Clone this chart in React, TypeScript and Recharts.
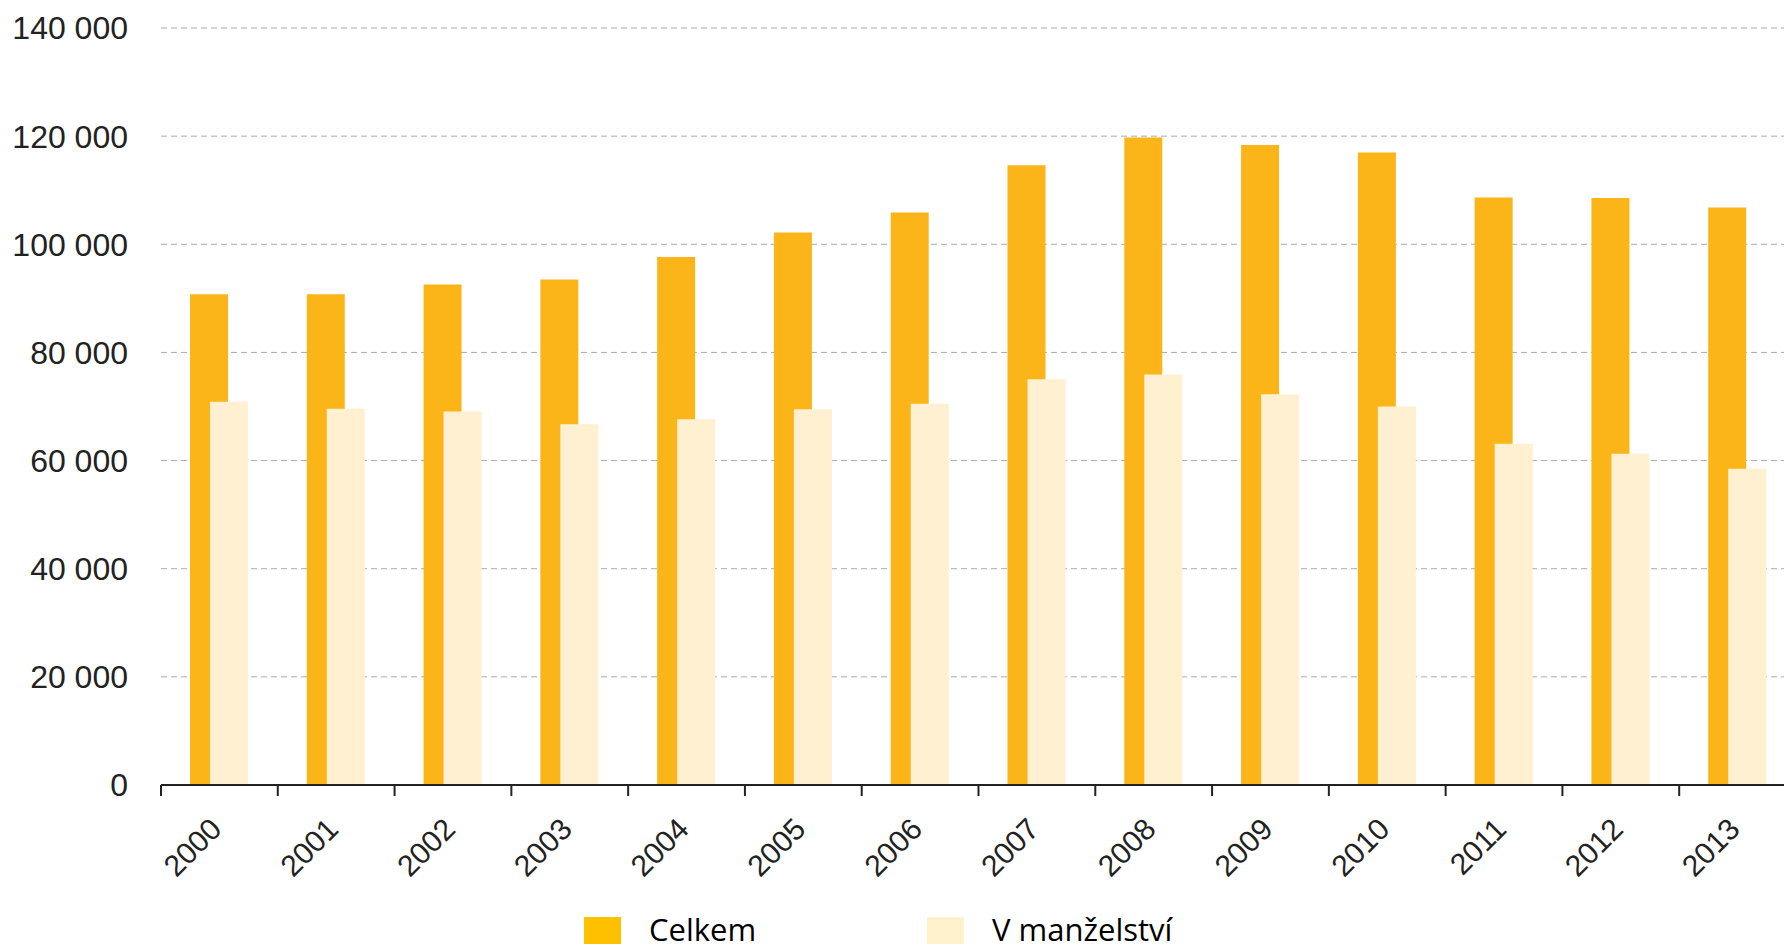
import React from 'react';
import { BarChart, Bar, XAxis, YAxis, CartesianGrid, Legend } from 'recharts';

const years = ['2000', '2001', '2002', '2003', '2004', '2005', '2006', '2007', '2008', '2009', '2010', '2011', '2012', '2013'];
const celkem = [90750, 90750, 92540, 93470, 97660, 102170, 105880, 114640, 119770, 118340, 116990, 108660, 108580, 106800];
const vManzelstvi = [70870, 69580, 69080, 66730, 67650, 69510, 70500, 75060, 75930, 72280, 70010, 63100, 61250, 58470];
const yTicks = [0, 20000, 40000, 60000, 80000, 100000, 120000, 140000];
const seriesNames = ['Celkem', 'V manželství'];

const barColors = ['#FBB519', '#FEF0D0'];
const legendColors = ['#FFC000', '#FFF2CC'];

const data = years.map((year, i) => ({ year, celkem: celkem[i], manzelstvi: vManzelstvi[i] }));

const fmt = (v: number) => String(v).replace(/\B(?=(\d{3})+(?!\d))/g, ' ');

const axisFont = '"Liberation Sans", Arial, sans-serif';

const YearTick = (props: any) => {
  const { x, y, payload, index, visibleTicksCount } = props;
  const half = payload.offset ?? 58.4;
  return (
    <g>
      <line x1={x - half} x2={x - half} y1={y} y2={y + 11} stroke="#222" strokeWidth={2} />
      {index === visibleTicksCount - 1 && (
        <line x1={x + half} x2={x + half} y1={y} y2={y + 11} stroke="#222" strokeWidth={2} />
      )}
      <text
        transform={`translate(${x + 4},${y + 46}) rotate(-45)`}
        textAnchor="end"
        fontSize={30}
        fill="#222"
        fontFamily={axisFont}
      >
        {payload.value}
      </text>
    </g>
  );
};

// legend drawn as html so it can sit right at the bottom edge like the original
const LegendBox = () => (
  <div style={{ display: 'flex', alignItems: 'flex-start', paddingLeft: 584 }}>
    {seriesNames.map((name, i) => (
      <div key={name} style={{ display: 'flex', alignItems: 'flex-start', width: i === 0 ? 343 : 'auto' }}>
        <div style={{ width: 37, height: 35, background: legendColors[i] }} />
        <span
          style={{
            display: 'block',
            marginLeft: 28,
            marginTop: -3,
            fontSize: 31,
            lineHeight: '30px',
            fontFamily: '"Open Sans", "Noto Sans", sans-serif',
            color: '#000',
          }}
        >
          {name}
        </span>
      </div>
    ))}
  </div>
);

export default function App() {
  return (
    <div style={{ margin: -8, width: 1792, height: 952, overflow: 'hidden', background: '#fff' }}>
      <BarChart
        width={1800}
        height={990}
        data={data}
        margin={{ top: 28, right: 4, left: 0, bottom: 85 }}
        barSize={38}
        barGap={-18}
      >
        <CartesianGrid vertical={false} stroke="#aaa" strokeDasharray="6 4" />
        <YAxis
          width={161}
          domain={[0, 140000]}
          ticks={yTicks}
          tickFormatter={fmt}
          axisLine={false}
          tickLine={false}
          tickSize={0}
          tickMargin={33}
          tick={{ fontSize: 32, fill: '#222', fontFamily: axisFont }}
        />
        <XAxis
          dataKey="year"
          height={120}
          interval={0}
          tickSize={0}
          tickMargin={0}
          tickLine={false}
          axisLine={{ stroke: '#222', strokeWidth: 2 }}
          tick={<YearTick />}
        />
        <Legend
          layout="horizontal"
          verticalAlign="middle"
          align="center"
          wrapperStyle={{ top: 917, left: 0, width: 1800 }}
          content={() => <LegendBox />}
        />
        <Bar dataKey="celkem" name={seriesNames[0]} fill={barColors[0]} isAnimationActive={false} />
        <Bar dataKey="manzelstvi" name={seriesNames[1]} fill={barColors[1]} isAnimationActive={false} />
      </BarChart>
    </div>
  );
}
